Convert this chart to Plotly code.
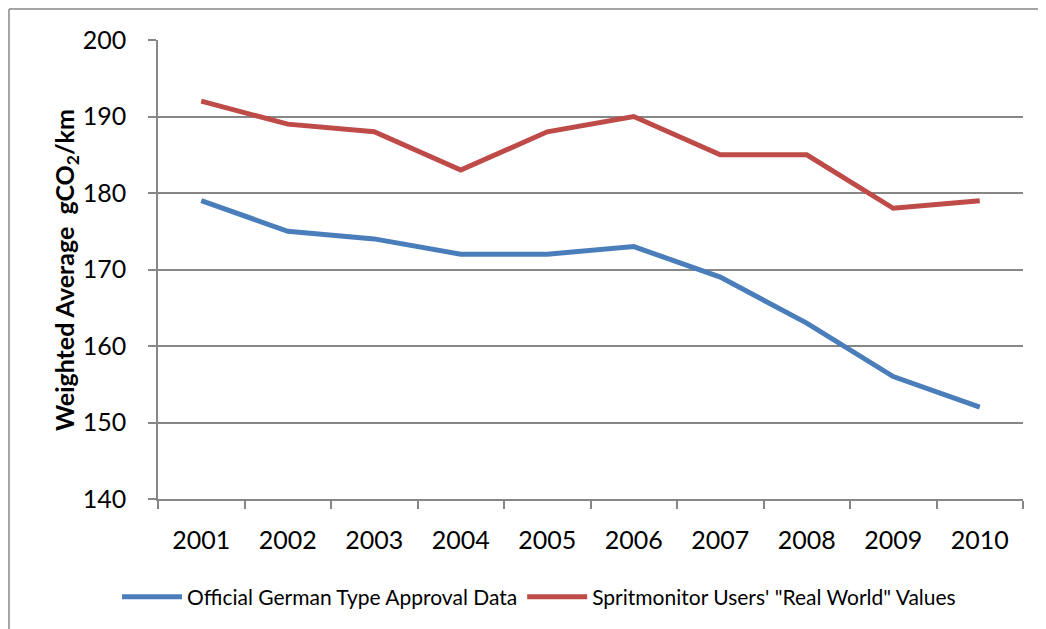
import plotly.graph_objects as go

years = ["2001", "2002", "2003", "2004", "2005", "2006", "2007", "2008", "2009", "2010"]
official = [179, 175, 174, 172, 172, 173, 169, 163, 156, 152]
real_world = [192, 189, 188, 183, 188, 190, 185, 185, 178, 179]
y_ticks = [140, 150, 160, 170, 180, 190, 200]

FONT = "Lato"
GRID = "#878787"

fig = go.Figure()
fig.add_trace(go.Scatter(x=years, y=official, mode="lines",
                         name="Official German Type Approval Data",
                         line=dict(color="#4A7EBB", width=5)))
fig.add_trace(go.Scatter(x=years, y=real_world, mode="lines",
                         name="Spritmonitor Users' \"Real World\" Values",
                         line=dict(color="#BE4B48", width=5)))

# page has an 8px body margin; plot area should sit at x 158-1023, y 40-499 on the page
fig.update_layout(
    width=1046, height=629,
    margin=dict(l=150, r=31, t=32, b=138),
    paper_bgcolor="white", plot_bgcolor="white",
    font=dict(family=FONT, color="black"),
    showlegend=True,
    legend=dict(orientation="h", x=0.4405, xanchor="center", y=-0.2135, yanchor="middle",
                font=dict(size=21, family=FONT), itemwidth=60, traceorder="normal"),
    xaxis=dict(type="category", tickson="boundaries", ticks="outside", ticklen=8,
               tickcolor=GRID, tickwidth=1.5, showline=True, linecolor=GRID, linewidth=1.5,
               showgrid=False, tickfont=dict(size=25, family=FONT), ticklabelstandoff=18,
               range=[-0.5, 9.5]),
    yaxis=dict(range=[140, 200], tickvals=y_ticks, ticks="outside", ticklen=8,
               tickcolor=GRID, tickwidth=1.5, showline=True, linecolor=GRID, linewidth=1.5,
               showgrid=True, gridcolor=GRID, gridwidth=1.5,
               tickfont=dict(size=25, family=FONT), ticklabelstandoff=17, zeroline=False),
)

fig.add_annotation(text="<b>Weighted Average  gCO<sub>2</sub>/km</b>", textangle=-90,
                   xref="paper", yref="paper", x=(66 - 158) / 865, y=0.499,
                   xanchor="center", yanchor="middle", showarrow=False,
                   font=dict(size=25, family=FONT, color="black"))

# chart-area border (left and top edges visible)
bx = (9 - 158) / 865
by = 1 + (40 - 9) / 459
fig.add_shape(type="line", xref="paper", yref="paper", x0=bx, x1=bx, y0=-0.4, y1=by,
              line=dict(color=GRID, width=1.5))
fig.add_shape(type="line", xref="paper", yref="paper", x0=bx, x1=1.1, y0=by, y1=by,
              line=dict(color=GRID, width=1.5))

fig.write_html("out.html")
